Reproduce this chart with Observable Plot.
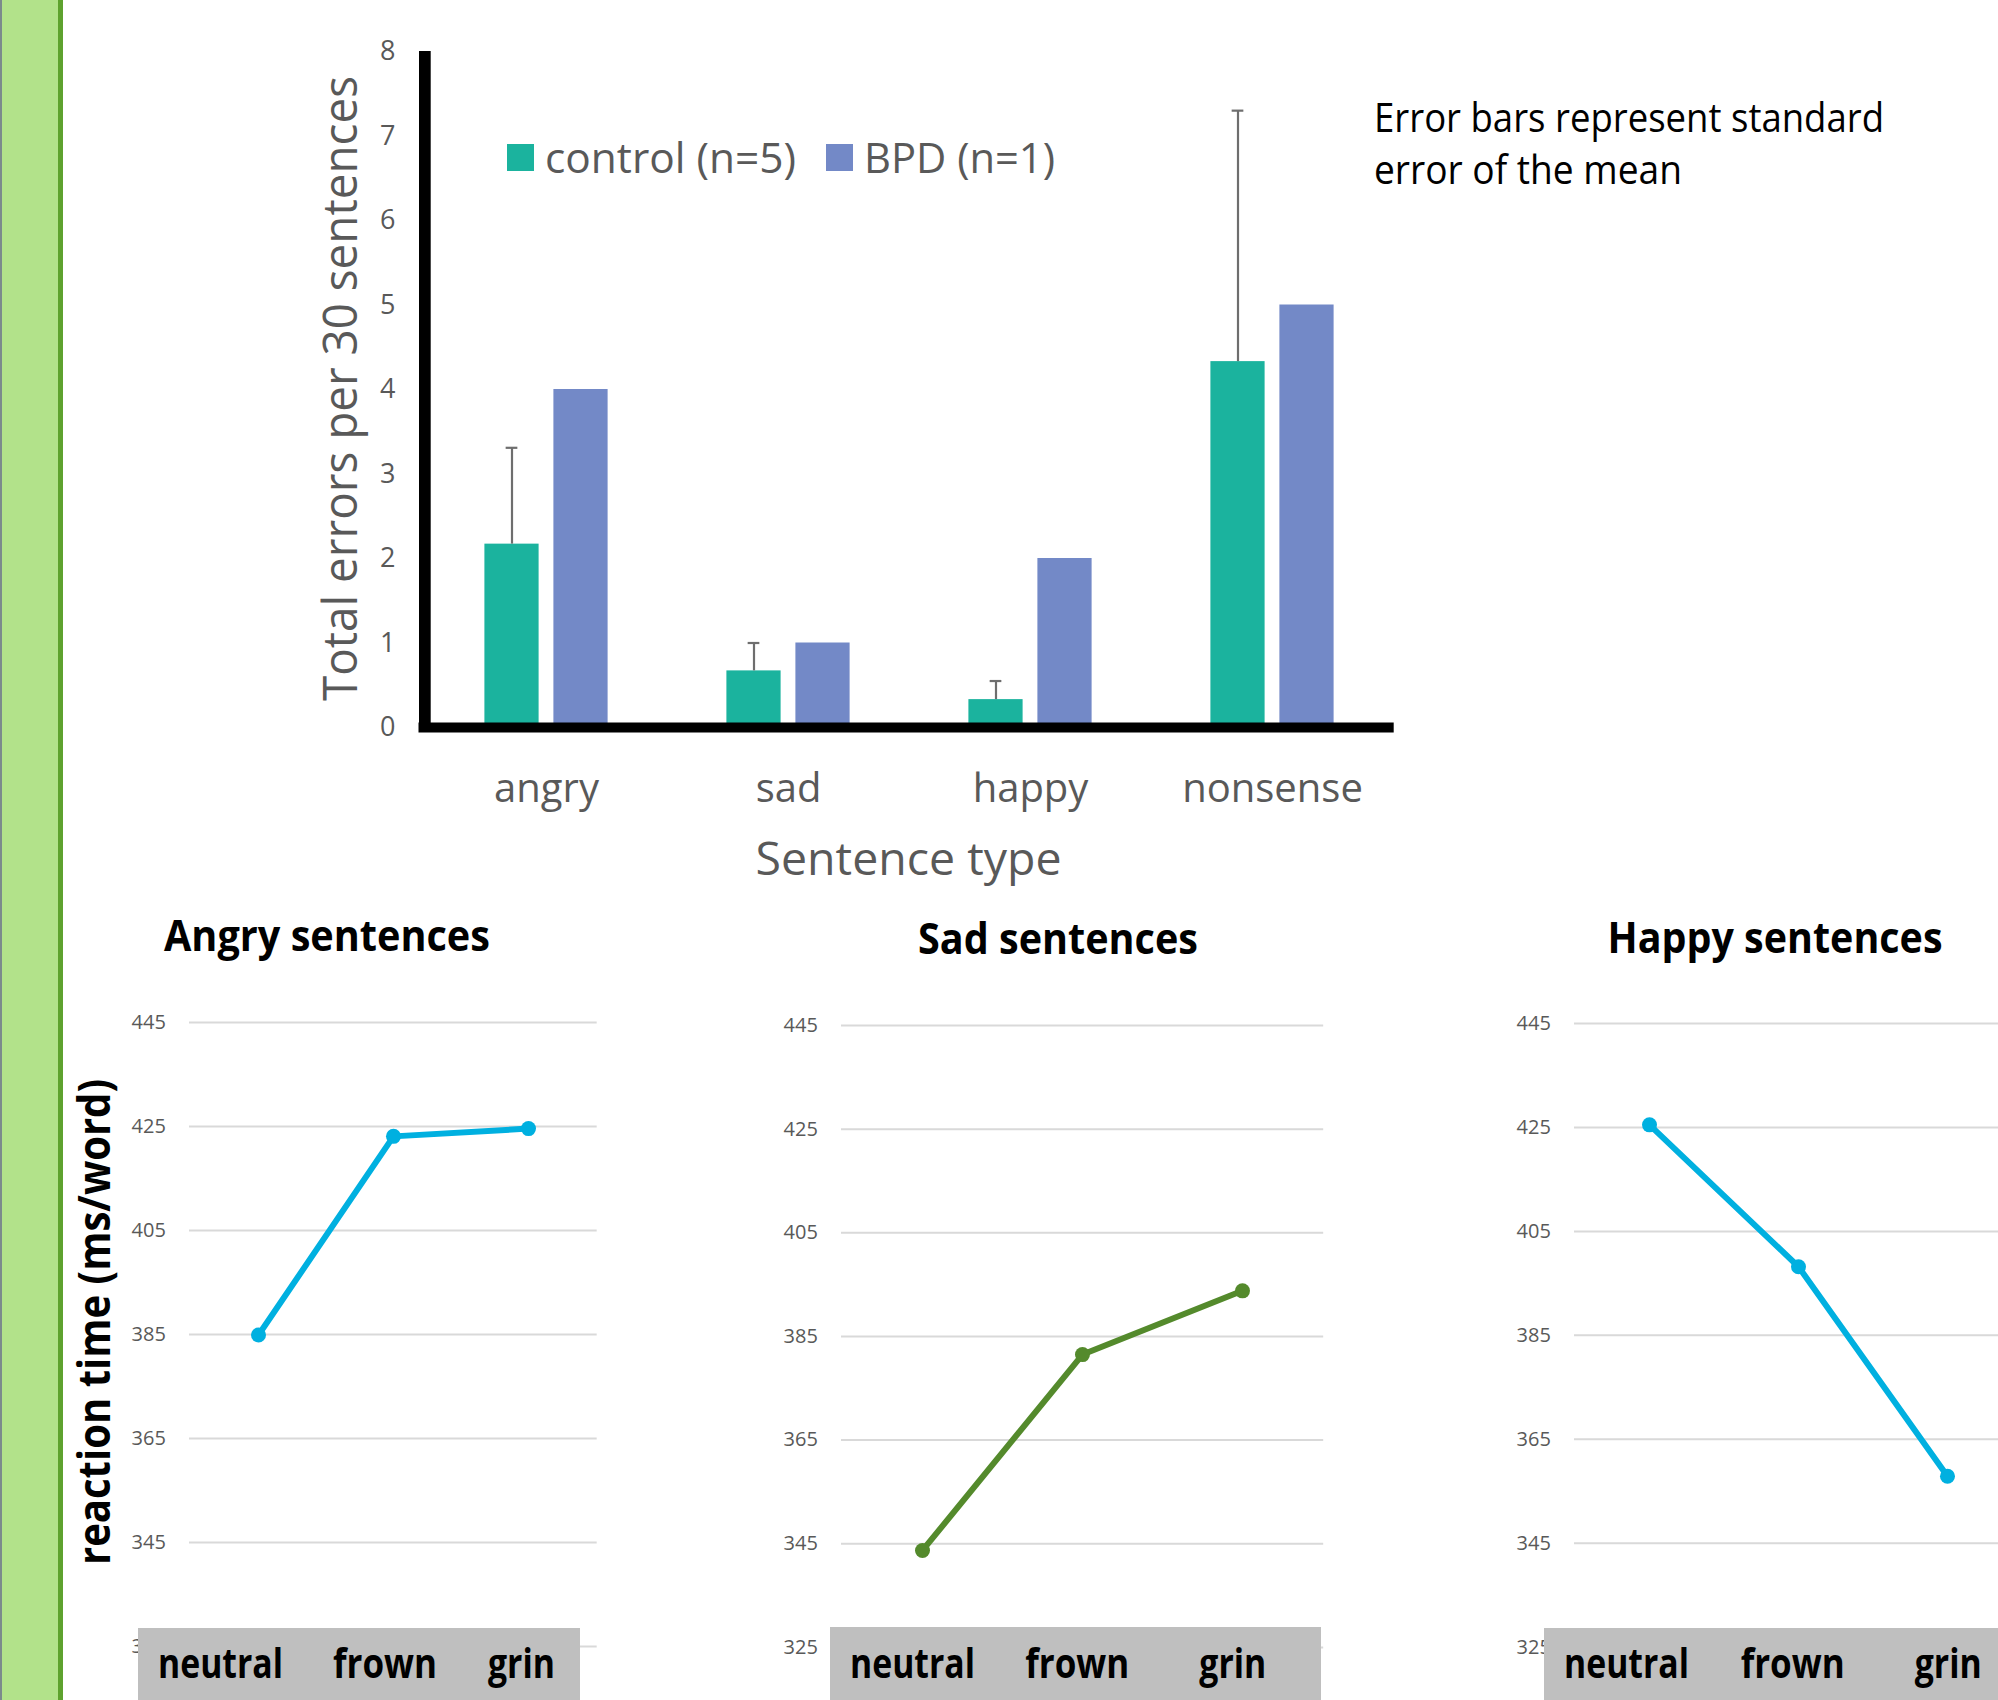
<!DOCTYPE html>
<html>
<head>
<meta charset="utf-8">
<script src="https://cdn.jsdelivr.net/npm/d3@7"></script>
<script src="https://cdn.jsdelivr.net/npm/@observablehq/plot@0.6"></script>
<style>
  html, body { margin: 0; padding: 0; background: #fff; }
  #page { position: relative; width: 1998px; height: 1700px; overflow: hidden; background: #fff; font-family: "Open Sans", sans-serif; }
  #page svg { position: absolute; max-width: none; }
</style>
</head>
<body>
<div id="page"></div>
<script>
// ---------------- DATA ----------------
const sentenceTypes = ["angry", "sad", "happy", "nonsense"];
const groupLabels = ["control (n=5)", "BPD (n=1)"];
const controlErrors = [2.17, 0.67, 0.33, 4.33];
const controlSE = [1.14, 0.33, 0.22, 2.97];
const bpdErrors = [4, 1, 2, 5];
const errorTicks = [0, 1, 2, 3, 4, 5, 6, 7, 8];
const topYTitle = "Total errors per 30 sentences";
const topXTitle = "Sentence type";
const noteLines = ["Error bars represent standard", "error of the mean"];

const faces = ["neutral", "frown", "grin"];
const panelTitles = ["Angry sentences", "Sad sentences", "Happy sentences"];
const angryRT = [384.9, 423.1, 424.6];
const sadRT = [343.7, 381.5, 393.8];
const happyRT = [425.5, 398.2, 357.9];
const rtTicks = [325, 345, 365, 385, 405, 425, 445];
const rtTitle = "reaction time (ms/word)";

// ---------------- STYLE / LAYOUT ----------------
const TEAL = "#1bb39e", PERIWINKLE = "#7389c7", GREY_TXT = "#595959";
const CYAN = "#00b0e0", OLIVE = "#548a2c";
const FONT = "'Open Sans', sans-serif";

const page = document.getElementById("page");
function mount(el, left, top) { el.style.left = left + "px"; el.style.top = top + "px"; page.appendChild(el); }

// ---------------- TOP BAR CHART ----------------
const TOP = {left: 424.5, right: 1393.7, top: 51, bottom: 727, svgW: 1450, svgH: 830};
const band = (TOP.right - TOP.left) / sentenceTypes.length;
const BAR_W = 54.5, BAR_GAP = 14.5, CAP_W = 12, AXIS_W = 12;
const outer = (band - 2 * BAR_W - BAR_GAP) / 2;
const topRows = sentenceTypes.map((t, i) => ({type: t, control: controlErrors[i], se: controlSE[i], bpd: bpdErrors[i]}));
const pxPerUnit = (TOP.bottom - TOP.top) / (errorTicks[errorTicks.length - 1] - errorTicks[0]);

const topPlot = Plot.plot({
  width: TOP.svgW, height: TOP.svgH,
  marginLeft: TOP.left, marginRight: TOP.svgW - TOP.right,
  marginTop: TOP.top, marginBottom: TOP.svgH - TOP.bottom,
  style: {fontFamily: FONT, color: GREY_TXT, background: "transparent", overflow: "visible"},
  x: {type: "band", domain: sentenceTypes, padding: 0},
  y: {domain: [errorTicks[0], errorTicks[errorTicks.length - 1]]},
  marks: [
    Plot.barY(topRows, {x: "type", y: "control", fill: TEAL, insetLeft: outer, insetRight: band - outer - BAR_W}),
    Plot.barY(topRows, {x: "type", y: "bpd", fill: PERIWINKLE, insetLeft: outer + BAR_W + BAR_GAP, insetRight: outer}),
    Plot.ruleX(topRows, {x: "type", y1: "control", y2: d => d.control + d.se, dx: outer + BAR_W / 2 - band / 2, stroke: "#6e6e6e", strokeWidth: 2.2}),
    Plot.tickY(topRows, {x: "type", y: d => d.control + d.se, insetLeft: outer + BAR_W / 2 - CAP_W / 2, insetRight: band - outer - BAR_W / 2 - CAP_W / 2, stroke: "#6e6e6e", strokeWidth: 2.2}),
    Plot.ruleY([errorTicks[0]], {stroke: "#000", strokeWidth: 10, insetLeft: -AXIS_W / 2}),
    Plot.barY([sentenceTypes[0]], {x: d => d, y1: errorTicks[0] - 5 / pxPerUnit, y2: errorTicks[errorTicks.length - 1], fill: "#000", insetLeft: -AXIS_W / 2, insetRight: band - AXIS_W / 2}),
    Plot.axisY(errorTicks, {tickSize: 0, tickPadding: 29.5, fontSize: 27, label: null, tickFormat: d3.format("d")}),
    Plot.axisX({tickSize: 0, tickPadding: 46, fontSize: 40, label: null})
  ]
});
mount(topPlot, 0, 0);

// ---------------- BOTTOM LINE PANELS ----------------
const panels = [
  {title: panelTitles[0], values: angryRT, color: CYAN, frame: {left: 189.3, right: 597, top: 1022, bottom: 1646}},
  {title: panelTitles[1], values: sadRT, color: OLIVE, frame: {left: 840.8, right: 1323, top: 1025.4, bottom: 1647.3}},
  {title: panelTitles[2], values: happyRT, color: CYAN, frame: {left: 1573.6, right: 2022.4, top: 1022.8, bottom: 1646.5}}
];
const PAD = {l: 120, r: 20, t: 30, b: 40};
for (const p of panels) {
  const rows = faces.map((f, i) => ({face: f, rt: p.values[i]}));
  const w = p.frame.right - p.frame.left + PAD.l + PAD.r;
  const h = p.frame.bottom - p.frame.top + PAD.t + PAD.b;
  const svg = Plot.plot({
    width: w, height: h,
    marginLeft: PAD.l, marginRight: PAD.r, marginTop: PAD.t, marginBottom: PAD.b,
    style: {fontFamily: FONT, color: GREY_TXT, background: "transparent", overflow: "visible"},
    x: {type: "point", domain: faces, padding: 0.5, axis: null},
    y: {domain: [rtTicks[0], rtTicks[rtTicks.length - 1]]},
    marks: [
      Plot.gridY(rtTicks, {stroke: "#d9d9d9", strokeOpacity: 1, strokeWidth: 2}),
      Plot.axisY(rtTicks, {tickSize: 0, tickPadding: 23.6, fontSize: 20, label: null}),
      Plot.line(rows, {x: "face", y: "rt", stroke: p.color, strokeWidth: 6}),
      Plot.dot(rows, {x: "face", y: "rt", r: 7.5, fill: p.color, stroke: "none"})
    ]
  });
  mount(svg, p.frame.left - PAD.l, p.frame.top - PAD.t);
}

// ---------------- OVERLAY (titles, legend, boxes) ----------------
const overlay = d3.create("svg").attr("width", 1998).attr("height", 1700)
  .style("font-family", FONT).style("pointer-events", "none");
mount(overlay.node(), 0, 0);

function addText(str, o) {
  const t = overlay.append("text").text(str)
    .attr("x", o.x).attr("y", o.y)
    .attr("font-size", o.size).attr("font-weight", o.weight || 400)
    .attr("fill", o.fill || "#000").attr("text-anchor", o.anchor || "start");
  if (o.width) t.attr("textLength", o.width).attr("lengthAdjust", "spacingAndGlyphs");
  if (o.rotate) t.attr("transform", `rotate(${o.rotate},${o.x},${o.y})`);
  return t;
}

// left decorative strip
overlay.append("rect").attr("x", 0).attr("y", 0).attr("width", 2).attr("height", 1700).attr("fill", "#7b8a8c");
overlay.append("rect").attr("x", 2).attr("y", 0).attr("width", 56).attr("height", 1700).attr("fill", "#b2e28a");
overlay.append("rect").attr("x", 58).attr("y", 0).attr("width", 5).attr("height", 1700).attr("fill", "#5ea22e");

// top chart titles
addText(topYTitle, {x: 357, y: 388.5, size: 48, fill: GREY_TXT, anchor: "middle", width: 625, rotate: -90});
addText(topXTitle, {x: 908.5, y: 875, size: 46, fill: GREY_TXT, anchor: "middle", width: 306});

// legend
const legend = [
  {label: groupLabels[0], color: TEAL, sq: 507, tx: 545, w: 251},
  {label: groupLabels[1], color: PERIWINKLE, sq: 826, tx: 864, w: 191}
];
for (const l of legend) {
  overlay.append("rect").attr("x", l.sq).attr("y", 144).attr("width", 27).attr("height", 27).attr("fill", l.color);
  addText(l.label, {x: l.tx, y: 173, size: 42, fill: GREY_TXT, width: l.w});
}

// note
addText(noteLines[0], {x: 1374, y: 132, size: 40, width: 510});
addText(noteLines[1], {x: 1374, y: 184, size: 40, width: 308});

// bottom titles
const titleLayout = [{cx: 327, y: 950.6, w: 326}, {cx: 1058, y: 953.5, w: 280}, {cx: 1775, y: 953, w: 335}];
panelTitles.forEach((t, i) => addText(t, {x: titleLayout[i].cx, y: titleLayout[i].y, size: 43, weight: 700, anchor: "middle", width: titleLayout[i].w}));
addText(rtTitle, {x: 110, y: 1322, size: 45, weight: 700, anchor: "middle", width: 486, rotate: -90});

// grey category boxes
const labelWidths = [125, 104, 67];
const boxes = [
  {x: 138, y: 1628, w: 442, gaps: [50, 51]},
  {x: 830, y: 1627, w: 491, gaps: [50.3, 70]},
  {x: 1544, y: 1628, w: 460, gaps: [51.7, 70]}
];
for (const b of boxes) {
  overlay.append("rect").attr("x", b.x).attr("y", b.y).attr("width", b.w).attr("height", 1700 - b.y).attr("fill", "#bfbfbf");
  let cx = b.x + 20;
  faces.forEach((f, i) => {
    addText(f, {x: cx, y: 1677.5, size: 42, weight: 700, width: labelWidths[i]});
    cx += labelWidths[i] + (b.gaps[i] || 0);
  });
}
</script>
</body>
</html>
